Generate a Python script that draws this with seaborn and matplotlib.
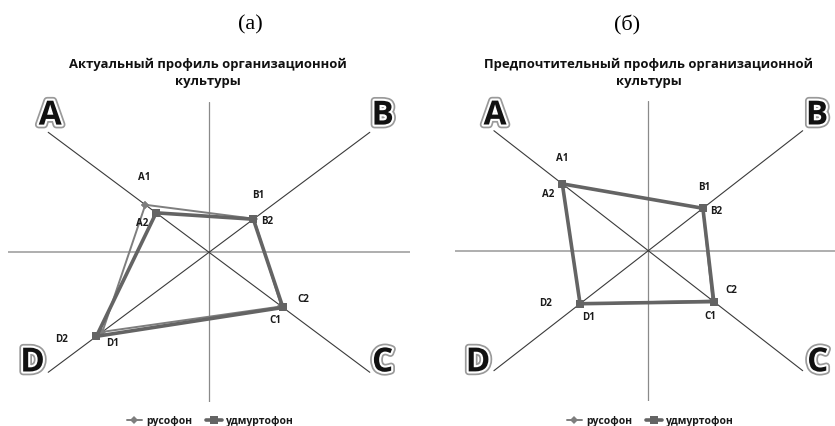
import numpy as np
import pandas as pd
import matplotlib
matplotlib.use("Agg")
import matplotlib.pyplot as plt
import matplotlib.patheffects as pe
import seaborn as sns

sns.set_style("white")
plt.rcParams['font.family'] = ['Open Sans', 'DejaVu Sans']

# ---- data ----
categories = ['A', 'B', 'C', 'D']
series_names = ['русофон', 'удмуртофон']
rus_actual = [22.4, 15.8, 25.5, 37.5]
udm_actual = [18.6, 15.6, 26.0, 39.6]
rus_pref = [31.5, 20.0, 23.5, 25.0]
udm_pref = [31.5, 20.0, 24.0, 25.0]
rus_labels = ['A1', 'B1', 'C1', 'D1']
udm_labels = ['A2', 'B2', 'C2', 'D2']
titles = ['Актуальный профиль организационной\nкультуры',
          'Предпочтительный профиль организационной\nкультуры']
panel_tags = ['(а)', '(б)']

# direction of each category's diagonal
dirs = {'A': (-1, 1), 'B': (1, 1), 'C': (1, -1), 'D': (-1, -1)}


def to_frame(values, series):
    rows = []
    for cat, v in zip(categories + [categories[0]], values + [values[0]]):
        dx, dy = dirs[cat]
        rows.append({'x': dx * v / np.sqrt(2), 'y': dy * v / np.sqrt(2),
                     'cat': cat, 'series': series})
    return pd.DataFrame(rows)


W, H = 835, 427
fig = plt.figure(figsize=(W / 100, H / 100), dpi=100)

# axes placement in pixels: (left, top, width, height)
panels = [
    dict(box=(8, 103.3, 402, 300), rus=rus_actual, udm=udm_actual,
         rus_off=[(-1, 28), (4, 24), (-6, -13), (10, -11)],
         udm_off=[(-14, -10), (14, -1), (20, 9), (-35, -2)],
         letters={'A': (-39.5, 45.4), 'B': (43.2, 45.4), 'C': (43.2, -36.9), 'D': (-43.9, -36.9)},
         tag_x=250, title_x=208, leg_x=210),
    dict(box=(455.3, 101.7, 386, 300), rus=rus_pref, udm=udm_pref,
         rus_off=[(0, 26), (1, 22), (-2, -15), (8, -13)],
         udm_off=[(-14, -10), (13, -2), (17, 12), (-35, 1)],
         letters={'A': (-39.7, 44.9), 'B': (43.7, 44.9), 'C': (43.9, -37.4), 'D': (-44.1, -37.4)},
         tag_x=627, title_x=649, leg_x=650),
]

rus_color = '#7e7e7e'
udm_color = '#646464'

for i, p in enumerate(panels):
    l, t, w, h = p['box']
    ax = fig.add_axes([l / W, 1 - (t + h) / H, w / W, h / H])
    ax.set_xlim(-50, 50)
    ax.set_ylim(-50, 50)
    ax.axis('off')

    # cross axes
    ax.axhline(0, color='#a8a8a8', lw=1.3, zorder=1)
    ax.axvline(0, color='#8a8a8a', lw=0.9, zorder=1)
    # diagonals
    ax.plot([-40, 40], [40, -40], color='#3a3a3a', lw=0.8, zorder=1)
    ax.plot([-40, 40], [-40, 40], color='#3a3a3a', lw=0.8, zorder=1)

    df_r = to_frame(p['rus'], series_names[0])
    df_u = to_frame(p['udm'], series_names[1])
    sns.lineplot(data=df_r, x='x', y='y', sort=False, estimator=None, ax=ax,
                 color=rus_color, lw=1.4, marker='D', markersize=4,
                 markeredgewidth=0, label=series_names[0], zorder=3)
    sns.lineplot(data=df_u, x='x', y='y', sort=False, estimator=None, ax=ax,
                 color=udm_color, lw=2.6, marker='s', markersize=6,
                 markeredgewidth=0, label=series_names[1], zorder=4)

    # point labels
    for df, labs, offs in [(df_r, rus_labels, p['rus_off']), (df_u, udm_labels, p['udm_off'])]:
        for k, (lab, off) in enumerate(zip(labs, offs)):
            ax.annotate(lab, (df['x'].iloc[k], df['y'].iloc[k]), xytext=off,
                        textcoords='offset pixels', ha='center', va='center',
                        fontsize=7, fontweight='bold', color='#1a1a1a', zorder=5)

    # big corner letters
    for cat, (lx, ly) in p['letters'].items():
        ax.text(lx, ly, cat, ha='center', va='center', fontsize=24,
                fontweight='bold', color='#111111', zorder=6,
                path_effects=[pe.Stroke(linewidth=5.5, foreground='#9a9a9a'),
                              pe.Stroke(linewidth=3, foreground='white'),
                              pe.Normal()])

    leg = ax.legend(loc='center', bbox_to_anchor=(p['leg_x'] / W, 1 - 422 / H),
                    bbox_transform=fig.transFigure, ncol=2, frameon=False,
                    fontsize=7.5, handlelength=1.5, columnspacing=1.4,
                    handletextpad=0.35)
    for txt in leg.get_texts():
        txt.set_fontweight('bold')
        txt.set_color('#1a1a1a')

    fig.text(p['title_x'] / W, 1 - 73 / H, titles[i], ha='center', va='center',
             fontsize=9.4, fontweight='bold', color='#111111', linespacing=1.45)
    fig.text(p['tag_x'] / W, 1 - 25 / H, panel_tags[i], ha='center', va='center',
             fontsize=16, family='Liberation Serif', color='black')

fig.savefig('out.png', dpi=100)
